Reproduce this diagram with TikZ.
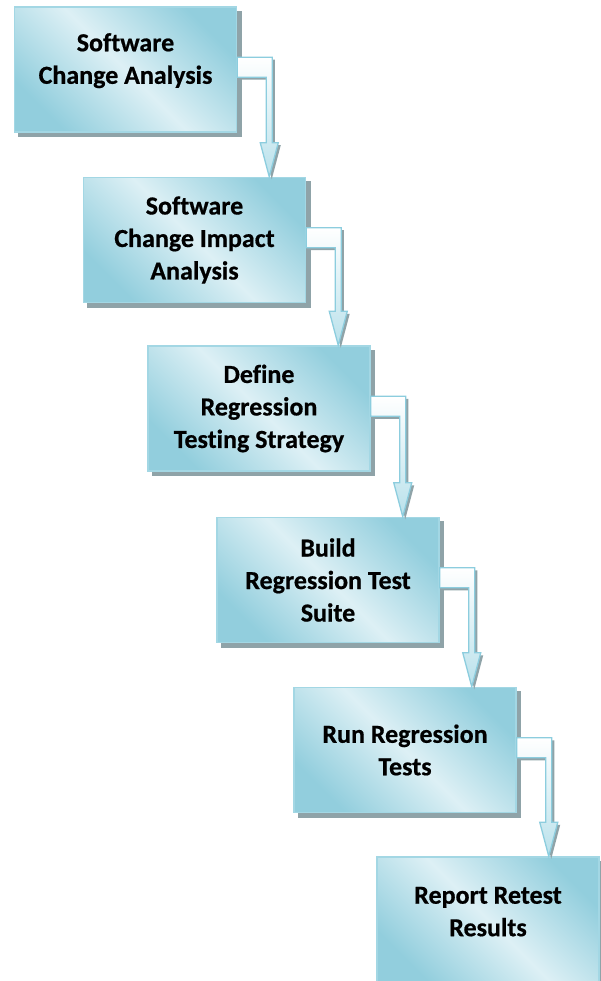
\documentclass[tikz,border=0pt]{standalone}
\usepackage{fontspec}
\setmainfont{Carlito}[Ligatures=NoCommon, BoldFeatures={FakeBold=0.6}]
\usetikzlibrary{calc,backgrounds}
\definecolor{boxdark}{HTML}{92CEDD}
\definecolor{boxlight}{HTML}{DDF0F5}
\definecolor{boxline}{HTML}{A3D7E4}
\definecolor{shadowgray}{HTML}{8FA3A8}
\definecolor{arrowline}{HTML}{8CCDDE}
\definecolor{arrowtint}{HTML}{B9E1EB}

% elbow connector: leaves the right side of #1, turns down, points at the top of #2
\newcommand\stepconnector[2]{%
  \path let \p1=(#1.north east), \p2=(#2.north) in
    [fill=shadowgray, xshift=2.5pt, yshift=-2.5pt]
    (\x1,{\y1-51pt}) -- ({\x1+35pt},{\y1-51pt}) -- ({\x1+35pt},{\y2+34pt})
    -- ({\x1+41pt},{\y2+34pt}) -- ({\x1+32pt},\y2) -- ({\x1+23pt},{\y2+34pt})
    -- ({\x1+29pt},{\y2+34pt}) -- ({\x1+29pt},{\y1-71pt}) -- (\x1,{\y1-71pt}) -- cycle;
  \path let \p1=(#1.north east), \p2=(#2.north) in
    [connector]
    (\x1,{\y1-51pt}) -- ({\x1+35pt},{\y1-51pt}) -- ({\x1+35pt},{\y2+34pt})
    -- ({\x1+41pt},{\y2+34pt}) -- ({\x1+32pt},\y2) -- ({\x1+23pt},{\y2+34pt})
    -- ({\x1+29pt},{\y2+34pt}) -- ({\x1+29pt},{\y1-71pt}) -- (\x1,{\y1-71pt}) -- cycle;
}
% flat grey shadow behind a box, offset down and to the right
\newcommand\boxshadow[1]{%
  \fill[shadowgray] ($(#1.south west)+(4.5,4.5)$) rectangle ($(#1.north east)+(4.5,4.5)$);}

\begin{document}
\begin{tikzpicture}[x=1pt,y=-1pt,
  stepbox/.style={rectangle, minimum width=222pt, minimum height=125pt,
    draw=boxline, line width=1.5pt,
    left color=boxdark, right color=boxdark, middle color=boxlight, shading angle=-45,
    font=\fontsize{26}{32.5}\selectfont\bfseries, align=center, inner sep=0pt},
  connector/.style={draw=arrowline, line width=1.3pt, line join=miter,
    top color=white, bottom color=arrowtint}]
\useasboundingbox (0,0) rectangle (601,981);

\node[stepbox, text depth=22pt] (b1) at (125.5,69.5) {Software\\Change Analysis};
\node[stepbox] (b2) at (194.5,240) {Software\\Change Impact\\Analysis};
\node[stepbox] (b3) at (259,408.5) {Define\\Regression\\Testing Strategy};
\node[stepbox] (b4) at (328,580) {Build\\Regression Test\\Suite};
\node[stepbox] (b5) at (405,750) {Run Regression\\Tests};
\node[stepbox, text depth=16pt] (b6) at (488,919.5) {Report Retest\\Results};

\begin{scope}[on background layer]
  \foreach \b in {b1,b2,b3,b4,b5,b6} {\boxshadow{\b}}
\end{scope}

\stepconnector{b1}{b2}
\stepconnector{b2}{b3}
\stepconnector{b3}{b4}
\stepconnector{b4}{b5}
\stepconnector{b5}{b6}
\end{tikzpicture}
\end{document}
